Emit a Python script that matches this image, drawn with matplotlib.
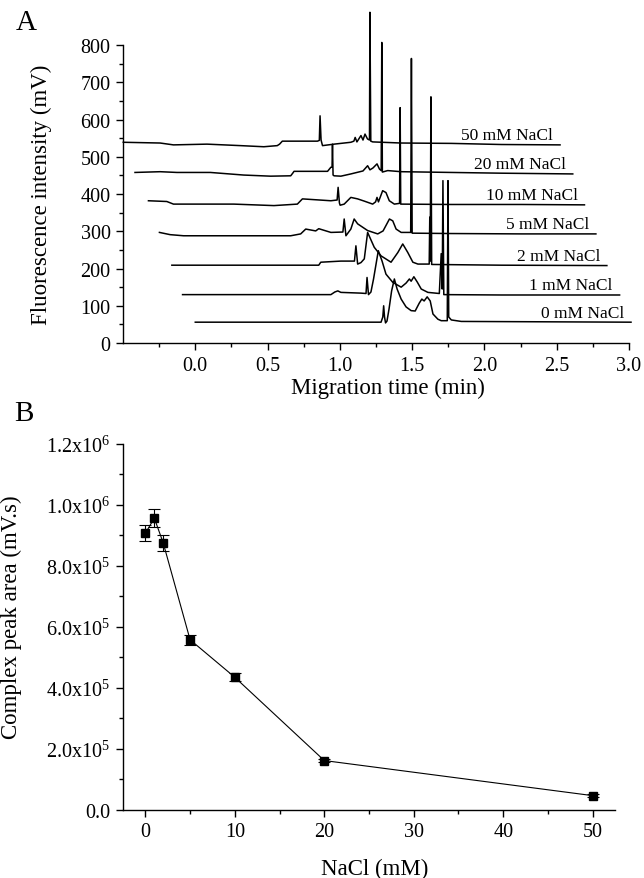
import matplotlib
matplotlib.use("Agg")
from matplotlib import pyplot as plt
from matplotlib.ticker import MultipleLocator, FuncFormatter

plt.rcParams['font.family'] = 'Liberation Serif'
plt.rcParams['mathtext.fontset'] = 'custom'
plt.rcParams['mathtext.rm'] = 'Liberation Serif'
plt.rcParams['mathtext.default'] = 'regular'

# ============================================================
# Panel A data: electropherograms as drawn (stacked, offset traces)
# time (min) / fluorescence (mV)
# ============================================================
t_50 = [-0.498, -0.243, -0.151, 0.081, 0.313, 0.474, 0.567, 0.583, 0.602, 0.845, 0.858, 0.863,
        0.870, 0.880, 0.960, 1.076, 1.097, 1.106, 1.118, 1.146, 1.160, 1.174, 1.191, 1.205,
        1.208, 1.214, 1.227, 1.424, 1.771, 2.118, 2.523]
v_50 = [539, 537, 532, 534, 530, 527, 530, 534, 542, 542, 544, 610,
        545, 530, 534, 539, 542, 552, 540, 557, 545, 561, 548, 545,
        888, 542, 540, 537, 536, 533, 532]

t_20 = [-0.417, -0.243, -0.127, 0.104, 0.335, 0.521, 0.660, 0.674, 0.683, 0.915, 0.938, 0.946,
        0.949, 0.953, 0.960, 1.007, 1.076, 1.160, 1.192, 1.208, 1.229, 1.257, 1.274, 1.286,
        1.290, 1.294, 1.331, 1.424, 1.771, 2.118, 2.611]
v_20 = [458, 460, 458, 458, 451, 448, 449, 456, 461, 461, 472, 472,
        534, 451, 449, 448, 454, 462, 476, 465, 470, 481, 467, 463,
        807, 459, 463, 460, 458, 456, 454]

t_10 = [-0.324, -0.197, -0.151, 0.266, 0.544, 0.706, 0.741, 0.938, 0.981, 0.988, 0.997, 1.002,
        1.030, 1.076, 1.123, 1.169, 1.227, 1.247, 1.257, 1.267, 1.296, 1.319, 1.342, 1.377,
        1.413, 1.417, 1.421, 1.771, 2.257, 2.692]
v_10 = [382, 380, 373, 373, 369, 373, 387, 382, 384, 418, 376, 370,
        373, 391, 387, 381, 373, 379, 391, 379, 409, 404, 382, 373,
        375, 632, 373, 372, 372, 371]

t_5 = [-0.248, -0.174, -0.081, 0.498, 0.660, 0.729, 0.764, 0.833, 0.854, 0.938, 1.021, 1.030,
       1.042, 1.076, 1.099, 1.123, 1.192, 1.262, 1.299, 1.343, 1.366, 1.389, 1.424, 1.490,
       1.495, 1.500, 1.771, 2.257, 2.771]
v_5 = [297, 291, 288, 288, 288, 293, 306, 301, 307, 297, 298, 333,
       288, 306, 333, 320, 302, 293, 301, 333, 328, 306, 297, 297,
       764, 295, 294, 293, 293]

t_2 = [-0.162, 0.382, 0.854, 0.868, 1.007, 1.101, 1.111, 1.123, 1.146, 1.169, 1.192, 1.238,
       1.285, 1.354, 1.401, 1.435, 1.470, 1.505, 1.540, 1.618, 1.622, 1.625, 1.630, 1.635,
       2.118, 2.847]
v_2 = [209, 209, 209, 217, 220, 220, 261, 212, 216, 226, 297, 257,
       234, 217, 243, 266, 243, 217, 212, 212, 338, 220, 661, 211,
       209, 208]

t_1 = [-0.088, 0.382, 0.938, 0.965, 0.986, 1.007, 1.146, 1.181, 1.188, 1.198, 1.215, 1.233,
       1.266, 1.292, 1.319, 1.366, 1.424, 1.458, 1.481, 1.493, 1.512, 1.535, 1.563, 1.609,
       1.688, 1.701, 1.708, 1.713, 1.719, 2.118, 2.935]
v_1 = [130, 130, 130, 137, 140, 136, 134, 133, 176, 130, 137, 172,
       248, 220, 185, 163, 150, 161, 172, 166, 178, 164, 145, 136,
       133, 240, 145, 436, 130, 129, 129]

t_0 = [0.0, 0.729, 1.285, 1.297, 1.303, 1.309, 1.316, 1.326, 1.340, 1.358, 1.377, 1.396,
       1.424, 1.458, 1.493, 1.521, 1.549, 1.567, 1.583, 1.604, 1.625, 1.644, 1.678, 1.701,
       1.743, 1.748, 1.753, 1.771, 1.840, 3.014]
v_0 = [56, 56, 56, 70, 100, 70, 54, 59, 91, 140, 172, 145,
       118, 97, 87, 86, 107, 118, 113, 124, 113, 78, 64, 60,
       60, 436, 70, 62, 58, 56]

trace_times = [t_50, t_20, t_10, t_5, t_2, t_1, t_0]
trace_vals = [v_50, v_20, v_10, v_5, v_2, v_1, v_0]
trace_labels = ['50 mM NaCl', '20 mM NaCl', '10 mM NaCl', '5 mM NaCl',
                '2 mM NaCl', '1 mM NaCl', '0 mM NaCl']

# ============================================================
# Panel B data: complex peak area vs NaCl
# ============================================================
nacl = [0, 1, 2, 5, 10, 20, 50]
peak_area = [0.907e6, 0.957e6, 0.875e6, 0.558e6, 0.435e6, 0.162e6, 0.047e6]
peak_err = [0.026e6, 0.029e6, 0.026e6, 0.016e6, 0.013e6, 0.006e6, 0.005e6]

fig = plt.figure(figsize=(6.44, 8.79), dpi=100)
axA = fig.add_axes([0.191, 0.6086, 0.7857, 0.3390])
axB = fig.add_axes([0.191, 0.0774, 0.7640, 0.4164])

for ax in (axA, axB):
    ax.spines['top'].set_visible(False)
    ax.spines['right'].set_visible(False)
    for s in ('left', 'bottom'):
        ax.spines[s].set_linewidth(1.0)
    ax.tick_params(which='both', direction='out', width=1.0, labelsize=14.5)
    ax.tick_params(which='major', length=5, pad=4)
    ax.tick_params(which='minor', length=3)

# --- Panel A ---
for t, v, lab in zip(trace_times, trace_vals, trace_labels):
    axA.plot(t, v, color='black', lw=1.1, clip_on=False)
    axA.annotate(lab, xy=(t[-1], v[-1]), xytext=(-5, 4), textcoords='offset points',
                 ha='right', va='baseline', fontsize=12.5, annotation_clip=False)

axA.set_xlim(-0.5, 3.0)
axA.set_ylim(0, 800)
axA.set_xticks([0.0, 0.5, 1.0, 1.5, 2.0, 2.5, 3.0])
axA.set_xticks([-0.25, 0.25, 0.75, 1.25, 1.75, 2.25, 2.75], minor=True)
axA.xaxis.set_major_formatter(FuncFormatter(lambda x, p: f'{x:.1f}'))
axA.yaxis.set_major_locator(MultipleLocator(100))
axA.yaxis.set_minor_locator(MultipleLocator(50))
axA.set_xlabel('Migration time (min)', fontsize=16.5)
axA.set_ylabel('Fluorescence intensity (mV)', fontsize=16.5)
axA.xaxis.set_label_coords(0.523, -0.115)
axA.yaxis.set_label_coords(-0.14, 0.5)

# --- Panel B ---
axB.errorbar(nacl, peak_area, yerr=peak_err, fmt='-s', color='black', ms=6, lw=0.8,
             elinewidth=0.8, capsize=4.5, capthick=0.8)
axB.set_xlim(-2.5, 52.5)
axB.set_ylim(0, 1.2e6)
axB.xaxis.set_major_locator(MultipleLocator(10))
axB.xaxis.set_minor_locator(MultipleLocator(5))
axB.yaxis.set_major_locator(MultipleLocator(2e5))
axB.yaxis.set_minor_locator(MultipleLocator(1e5))


def sci_label(y, pos):
    if y == 0:
        return '0.0'
    exp = len(str(int(round(y)))) - 1
    return f'{y / 10**exp:.1f}x10$^{{{exp}}}$'


axB.yaxis.set_major_formatter(FuncFormatter(sci_label))
axB.set_xlabel('NaCl (mM)', fontsize=16.5)
axB.set_ylabel('Complex peak area (mV.s)', fontsize=16.5)
axB.xaxis.set_label_coords(0.512, -0.13)
axB.yaxis.set_label_coords(-0.205, 0.53)

fig.text(26 / 644, 1 - 23 / 879, 'A', fontsize=21, ha='center', va='center')
fig.text(24 / 644, 1 - 414 / 879, 'B', fontsize=21, ha='center', va='center')

fig.savefig('out.png', dpi=100)
